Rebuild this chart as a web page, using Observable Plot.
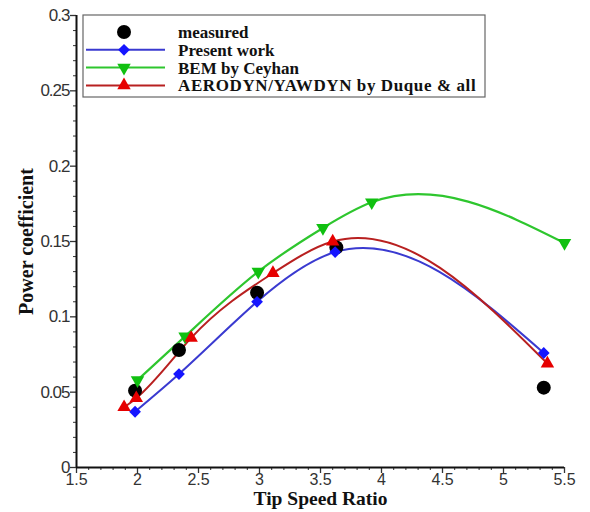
<!DOCTYPE html>
<html><head><meta charset="utf-8">
<script src="https://cdn.jsdelivr.net/npm/d3@7"></script>
<script src="https://cdn.jsdelivr.net/npm/@observablehq/plot@0.6"></script>
<style>body{margin:0;background:#fff}#chart{position:relative;width:590px;height:512px}</style>
</head><body><div id="chart"></div>
<script>
const tsrMeasured = [1.98, 2.34, 2.98, 3.63, 5.33];
const cpMeasured  = [0.051, 0.078, 0.116, 0.146, 0.053];
const tsrPresent  = [1.98, 2.34, 2.98, 3.62, 5.33];
const cpPresent   = [0.037, 0.062, 0.110, 0.143, 0.076];
const tsrBEM      = [2.0, 2.39, 2.99, 3.52, 3.92, 5.5];
const cpBEM       = [0.058, 0.087, 0.130, 0.159, 0.176, 0.149];
const tsrAero     = [1.89, 1.99, 2.44, 3.11, 3.6, 5.36];
const cpAero      = [0.040, 0.046, 0.086, 0.129, 0.150, 0.069];
const seriesNames = ["measured", "Present work", "BEM by Ceyhan", "AERODYN/YAWDYN by Duque & all"];
const xTicks = [1.5, 2, 2.5, 3, 3.5, 4, 4.5, 5, 5.5];
const yTicks = [0, 0.05, 0.1, 0.15, 0.2, 0.25, 0.3];
const xLabel = "Tip Speed Ratio";
const yLabel = "Power coefficient";

const zip = (xs, ys) => xs.map((x, i) => ({x, y: ys[i]}));
const measured = zip(tsrMeasured, cpMeasured);
const present = zip(tsrPresent, cpPresent);
const bem = zip(tsrBEM, cpBEM);
const aero = zip(tsrAero, cpAero);
const xMinor = d3.range(15, 56).map(v => v / 10).filter(v => !xTicks.some(t => Math.abs(t - v) < 1e-9));
const yMinor = d3.range(0, 31).map(v => v / 100).filter(v => !yTicks.some(t => Math.abs(t - v) < 1e-9));

// natural cubic spline with x as the parameter (curve factory for Plot.line)
function splineX(context) {
  let xs, ys;
  return {
    areaStart() {}, areaEnd() {},
    lineStart() { xs = []; ys = []; },
    point(x, y) { xs.push(+x); ys.push(+y); },
    lineEnd() {
      const n = xs.length;
      if (!n) return;
      context.moveTo(xs[0], ys[0]);
      if (n === 1) return;
      if (n === 2) { context.lineTo(xs[1], ys[1]); return; }
      const h = [], M = new Array(n).fill(0), a = [], b = [], c = [], d = [];
      for (let i = 0; i < n - 1; i++) h[i] = xs[i + 1] - xs[i];
      for (let i = 1; i < n - 1; i++) {
        a[i] = h[i - 1]; b[i] = 2 * (h[i - 1] + h[i]); c[i] = h[i];
        d[i] = 6 * ((ys[i + 1] - ys[i]) / h[i] - (ys[i] - ys[i - 1]) / h[i - 1]);
      }
      for (let i = 2; i < n - 1; i++) { const w = a[i] / b[i - 1]; b[i] -= w * c[i - 1]; d[i] -= w * d[i - 1]; }
      M[n - 2] = d[n - 2] / b[n - 2];
      for (let i = n - 3; i >= 1; i--) M[i] = (d[i] - c[i] * M[i + 1]) / b[i];
      for (let i = 0; i < n - 1; i++) {
        const s = (ys[i + 1] - ys[i]) / h[i];
        const m0 = s - h[i] * (2 * M[i] + M[i + 1]) / 6;
        const m1 = s + h[i] * (M[i] + 2 * M[i + 1]) / 6;
        context.bezierCurveTo(xs[i] + h[i] / 3, ys[i] + m0 * h[i] / 3, xs[i + 1] - h[i] / 3, ys[i + 1] - m1 * h[i] / 3, xs[i + 1], ys[i + 1]);
      }
    }
  };
}

const BLUE_L = "#3a3ad0", BLUE_M = "#1515ff";
const GREEN_L = "#2ec62e", GREEN_M = "#10c010";
const RED_L = "#b82020", RED_M = "#e60000";
const SERIF = "'Liberation Serif', 'Times New Roman', serif";

const plot = Plot.plot({
  width: 590, height: 512,
  marginLeft: 76, marginRight: 26, marginTop: 15, marginBottom: 45,
  style: {fontFamily: "'Liberation Sans', Arial, sans-serif", fontSize: "17px", color: "#333", background: "#fff"},
  x: {domain: [1.5, 5.5]},
  y: {domain: [0, 0.3]},
  marks: [
    Plot.axisX({ticks: xTicks, tickSize: 6, tickPadding: 0, tickFormat: d => String(d), label: null, fontSize: 16, strokeWidth: 1.3}),
    Plot.axisX({ticks: xMinor, tickSize: 3, text: null, label: null, strokeWidth: 1}),
    Plot.axisY({ticks: yTicks, tickSize: 6, tickPadding: 1, tickFormat: d => String(d), label: null, fontSize: 17, strokeWidth: 1.3}),
    Plot.axisY({ticks: yMinor, tickSize: 3, text: null, label: null, strokeWidth: 1}),
    Plot.ruleY([0], {stroke: "#111", strokeWidth: 2}),
    Plot.ruleX([1.5], {stroke: "#111", strokeWidth: 2}),
    Plot.line(present, {x: "x", y: "y", curve: splineX, stroke: BLUE_L, strokeWidth: 2}),
    Plot.line(bem, {x: "x", y: "y", curve: splineX, stroke: GREEN_L, strokeWidth: 2.2}),
    Plot.line(aero, {x: "x", y: "y", curve: splineX, stroke: RED_L, strokeWidth: 2}),
    Plot.dot(measured, {x: "x", y: "y", r: 7, fill: "#000", stroke: "none"}),
    Plot.dot(present, {x: "x", y: "y", r: 5.3, symbol: "diamond2", fill: BLUE_M, stroke: "none"}),
    Plot.dot(bem, {x: "x", y: "y", r: 5, symbol: "triangle", rotate: 180, fill: GREEN_M, stroke: "none"}),
    Plot.dot(aero, {x: "x", y: "y", r: 5, symbol: "triangle", fill: RED_M, stroke: "none"}),
    Plot.text([xLabel], {frameAnchor: "bottom", dy: 37, text: d => d, textAnchor: "middle", fontFamily: SERIF, fontWeight: "bold", fontSize: 19.5, fill: "#111"}),
    Plot.text([yLabel], {frameAnchor: "left", dx: -50, rotate: -90, text: d => d, textAnchor: "middle", fontFamily: SERIF, fontWeight: "bold", fontSize: 20, fill: "#111"})
  ]
});
document.getElementById("chart").appendChild(plot);

const svg = d3.select(plot);
svg.selectAll('g[aria-label="y-axis tick label"] text').attr("letter-spacing", "-1px");

// legend inside the plot frame
const lg = svg.append("g").attr("transform", "translate(83,15)");
lg.append("rect").attr("width", 402).attr("height", 82).attr("fill", "#fff").attr("stroke", "#666").attr("stroke-width", 1.2);
const legendStyles = [
  {line: null, sym: d3.symbolCircle, size: Math.PI * 49, fill: "#000", rot: 0},
  {line: BLUE_L, sym: d3.symbolDiamond2, size: Math.PI * 5.3 * 5.3, fill: BLUE_M, rot: 0},
  {line: GREEN_L, sym: d3.symbolTriangle, size: Math.PI * 25, fill: GREEN_M, rot: 180},
  {line: RED_L, sym: d3.symbolTriangle, size: Math.PI * 25, fill: RED_M, rot: 0}
];
seriesNames.forEach((name, i) => {
  const y = 17 + i * 17.8;
  const s = legendStyles[i];
  if (s.line) lg.append("line").attr("x1", 3).attr("x2", 82).attr("y1", y).attr("y2", y).attr("stroke", s.line).attr("stroke-width", 2);
  lg.append("path").attr("d", d3.symbol(s.sym, s.size)()).attr("transform", `translate(41,${y}) rotate(${s.rot})`).attr("fill", s.fill);
  lg.append("text").attr("x", 95).attr("y", y).attr("dy", "0.35em").attr("text-anchor", "start").text(name)
    .attr("font-family", SERIF).attr("font-weight", "bold").attr("font-size", 17)
    .attr("letter-spacing", i === 3 ? "0.6px" : "0px").attr("fill", "#111");
});
</script></body></html>
